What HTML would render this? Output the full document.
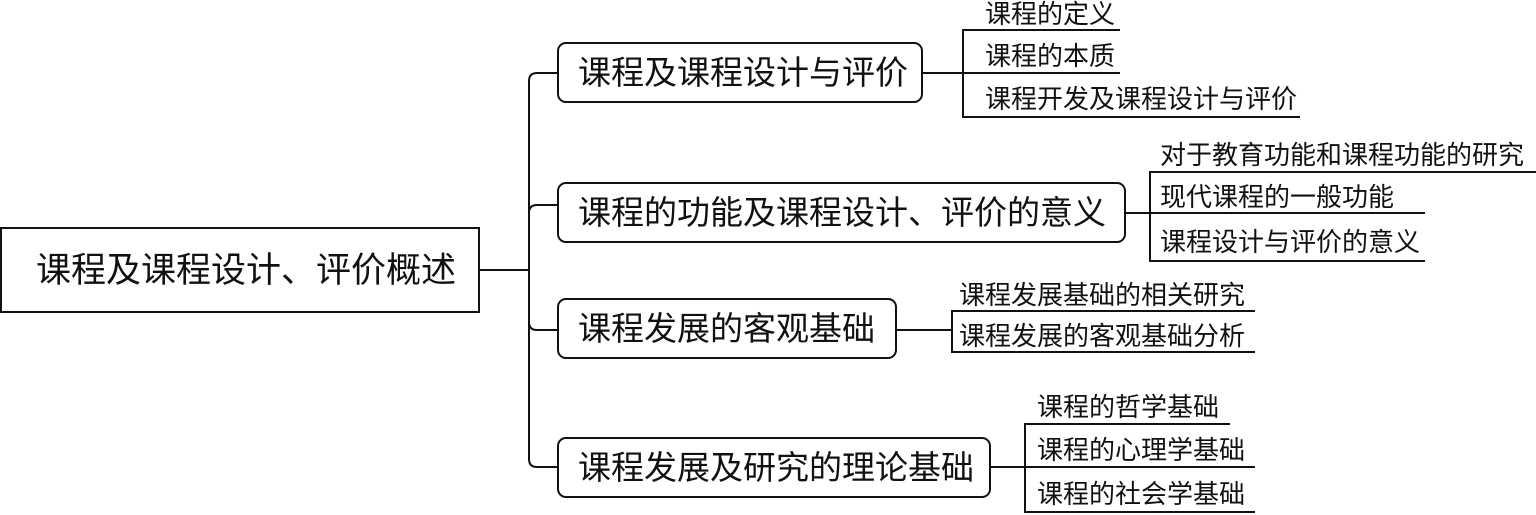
<!DOCTYPE html>
<html><head><meta charset="utf-8"><style>
body{margin:0;width:1536px;height:515px;background:#fff;overflow:hidden;position:relative;font-family:"Liberation Sans","Noto Sans CJK SC",sans-serif;color:#111}
.a{position:absolute}
.box{position:absolute;border:2px solid #111;border-radius:9px;box-sizing:border-box;font-size:33px;line-height:1;display:flex;align-items:center;padding-left:19px;white-space:nowrap}
.h{position:absolute;height:2px;background:#111}
.v{position:absolute;width:2px;background:#111}
.t{position:absolute;font-size:26px;line-height:1;white-space:nowrap}
</style></head><body>
<div class="a" style="left:0;top:227px;width:480px;height:86px;border:2px solid #111;box-sizing:border-box;font-size:35px;line-height:1;display:flex;align-items:center;padding-left:34px;white-space:nowrap">课程及课程设计、评价概述</div>
<div class="h" style="left:480px;top:269px;width:49px"></div>
<svg class="a" style="left:520px;top:60px" width="40" height="420"><path d="M37 13 H17 Q9 13 9 21 V399 Q9 407 17 407 H37 M9 153 Q9 145 17 145 H37 M9 262 Q9 270 17 270 H37" fill="none" stroke="#111" stroke-width="2"/></svg>

<div class="box" style="left:557px;top:42px;width:366px;height:61px">课程及课程设计与评价</div>
<div class="h" style="left:923px;top:72px;width:41px"></div>
<div class="v" style="left:962px;top:30px;height:88px"></div>
<div class="h" style="left:962px;top:29px;width:158px"></div>
<div class="h" style="left:962px;top:72px;width:158px"></div>
<div class="h" style="left:962px;top:116px;width:338px"></div>
<div class="t" style="left:985px;top:1px">课程的定义</div>
<div class="t" style="left:985px;top:43px">课程的本质</div>
<div class="t" style="left:985px;top:86px">课程开发及课程设计与评价</div>

<div class="box" style="left:557px;top:182px;width:569px;height:61px">课程的功能及课程设计、评价的意义</div>
<div class="h" style="left:1126px;top:212px;width:25px"></div>
<div class="v" style="left:1149px;top:172px;height:90px"></div>
<div class="h" style="left:1149px;top:171px;width:387px"></div>
<div class="h" style="left:1149px;top:212px;width:276px"></div>
<div class="h" style="left:1149px;top:260px;width:276px"></div>
<div class="t" style="left:1160px;top:142px">对于教育功能和课程功能的研究</div>
<div class="t" style="left:1160px;top:184px">现代课程的一般功能</div>
<div class="t" style="left:1160px;top:229px">课程设计与评价的意义</div>

<div class="box" style="left:557px;top:298px;width:340px;height:61px">课程发展的客观基础</div>
<div class="h" style="left:897px;top:329px;width:56px"></div>
<div class="v" style="left:951px;top:311px;height:42px"></div>
<div class="h" style="left:951px;top:310px;width:304px"></div>
<div class="h" style="left:951px;top:351px;width:304px"></div>
<div class="t" style="left:959px;top:282px">课程发展基础的相关研究</div>
<div class="t" style="left:959px;top:323px">课程发展的客观基础分析</div>

<div class="box" style="left:557px;top:437px;width:434px;height:61px">课程发展及研究的理论基础</div>
<div class="h" style="left:991px;top:466px;width:35px"></div>
<div class="v" style="left:1024px;top:424px;height:89px"></div>
<div class="h" style="left:1024px;top:423px;width:206px"></div>
<div class="h" style="left:1024px;top:466px;width:231px"></div>
<div class="h" style="left:1024px;top:511px;width:231px"></div>
<div class="t" style="left:1037px;top:394px">课程的哲学基础</div>
<div class="t" style="left:1037px;top:437px">课程的心理学基础</div>
<div class="t" style="left:1037px;top:481px">课程的社会学基础</div>
</body></html>
